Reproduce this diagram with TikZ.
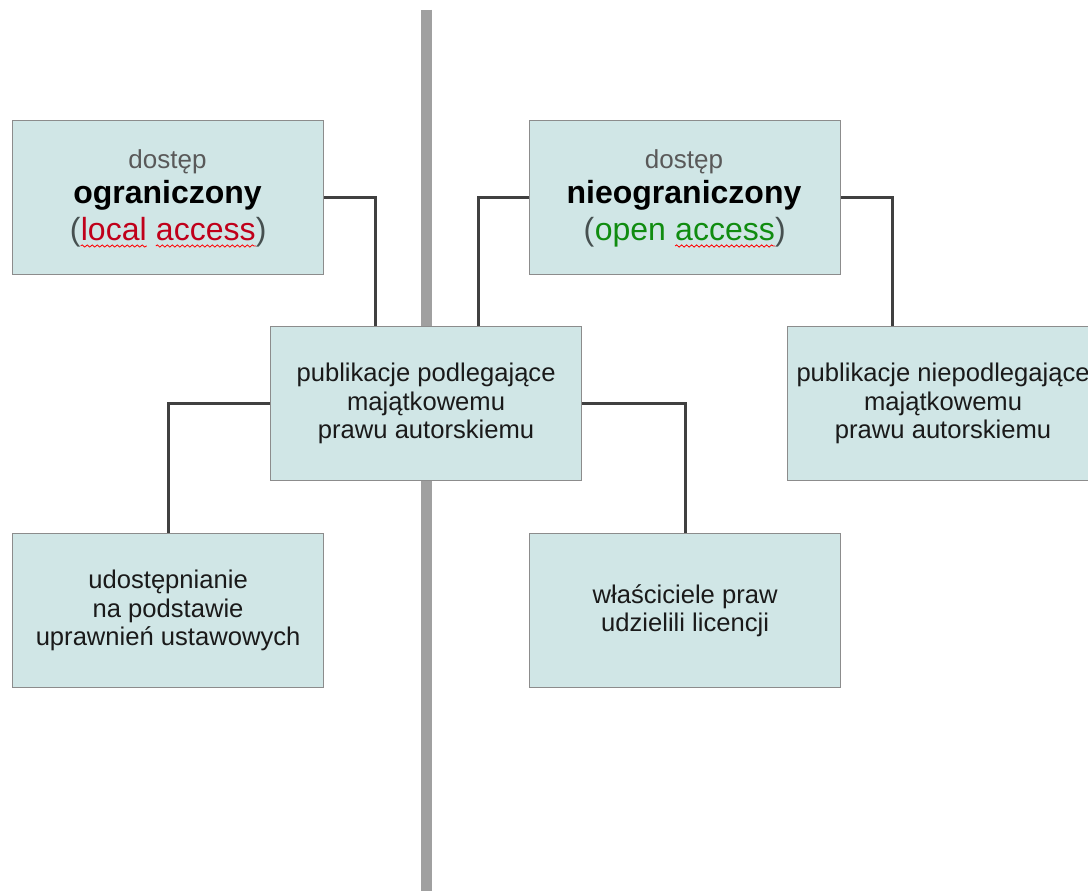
\documentclass[tikz,border=0pt]{standalone}
\usepackage{fontspec}
\setmainfont{Liberation Sans}
\usetikzlibrary{decorations.pathmorphing}
\definecolor{boxfill}{RGB}{208,230,230}
\definecolor{boxline}{RGB}{140,140,140}
\definecolor{conn}{RGB}{64,64,64}
\definecolor{divider}{RGB}{160,160,160}
\definecolor{lred}{RGB}{192,0,26}
\definecolor{ogreen}{RGB}{16,140,16}
\definecolor{softgray}{RGB}{89,89,89}
\definecolor{parengray}{RGB}{70,80,80}
\definecolor{bodytext}{RGB}{26,26,26}
\newcommand\fsBig{\fontsize{32}{38}\selectfont}
\newcommand\fsMid{\fontsize{26}{30}\selectfont}
\newcommand\fsBody{\fontsize{25.6}{28.5}\selectfont}
\begin{document}
\begin{tikzpicture}[x=1pt,y=-1pt,
  box/.style={draw=boxline, line width=1.2pt, fill=boxfill, inner sep=0pt,
    minimum width=311pt, minimum height=154pt, anchor=north west,
    align=center, font=\fsBody, text=bodytext},
  link/.style={draw=conn, line width=3pt},
  wordl/.style={inner sep=0pt, anchor=base west, font=\fsBig},
  headl/.style={inner sep=0pt, anchor=base},
  squig/.style={draw=red, line width=0.8pt, decorate,
    decoration={snake, amplitude=1.1pt, segment length=5pt}}
]
\fill[white] (0,0) rectangle (1088,891);
\clip (0,0) rectangle (1088,891);
\useasboundingbox (0,0) rectangle (1088,891);

% divider
\coordinate (divtop) at (426,10);
\coordinate (divbot) at (426,891);
\draw[draw=divider, line width=11pt] (divtop) -- (divbot);

% boxes
\node[box] (A) at (12,120) {};
\node[box] (B) at (529,120) {};
\node[box] (C) at (270,326) {publikacje podlegające\\majątkowemu\\prawu autorskiemu};
\node[box] (D) at (787,326) {publikacje niepodlegające\\majątkowemu\\prawu autorskiemu};
\node[box] (E) at (12,533) {udostępnianie\\na podstawie\\uprawnień ustawowych};
\node[box] (F) at (529,533) {właściciele praw\\udzielili licencji};

% box A text
\node[headl, font=\fsMid, text=softgray] (A1) at (167.5,168) {dostęp};
\node[headl, font=\fsBig\bfseries, text=black] (A2) at (167.5,203) {ograniczony};
\node[wordl, text=parengray] (A3a) at (69.6,240) {(};
\node[wordl, text=lred] (A3b) at (A3a.base east) {local};
\node[wordl, text=lred] (A3c) at ([xshift=8.9pt]A3b.base east) {access};
\node[wordl, text=parengray] (A3d) at (A3c.base east) {)};
\draw[squig] ([yshift=-6pt]A3b.base west) -- ([yshift=-6pt]A3b.base east);
\draw[squig] ([yshift=-6pt]A3c.base west) -- ([yshift=-6pt]A3c.base east);

% box B text
\node[headl, font=\fsMid, text=softgray] (B1) at (684,168) {dostęp};
\node[headl, font=\fsBig\bfseries, text=black] (B2) at (684,203) {nieograniczony};
\node[wordl, text=parengray] (B3a) at (583.5,240) {(};
\node[wordl, text=ogreen] (B3b) at (B3a.base east) {open};
\node[wordl, text=ogreen] (B3c) at ([xshift=8.9pt]B3b.base east) {access};
\node[wordl, text=parengray] (B3d) at (B3c.base east) {)};
\draw[squig] ([yshift=-6pt]B3c.base west) -- ([yshift=-6pt]B3c.base east);

% connectors
\draw[link] (A.east) -| ([xshift=-51pt]C.north);
\draw[link] (B.west) -| ([xshift=52pt]C.north);
\draw[link] (B.east) -| ([xshift=-51pt]D.north);
\draw[link] (C.west) -| (E.north);
\draw[link] (C.east) -| (F.north);
\end{tikzpicture}
\end{document}
